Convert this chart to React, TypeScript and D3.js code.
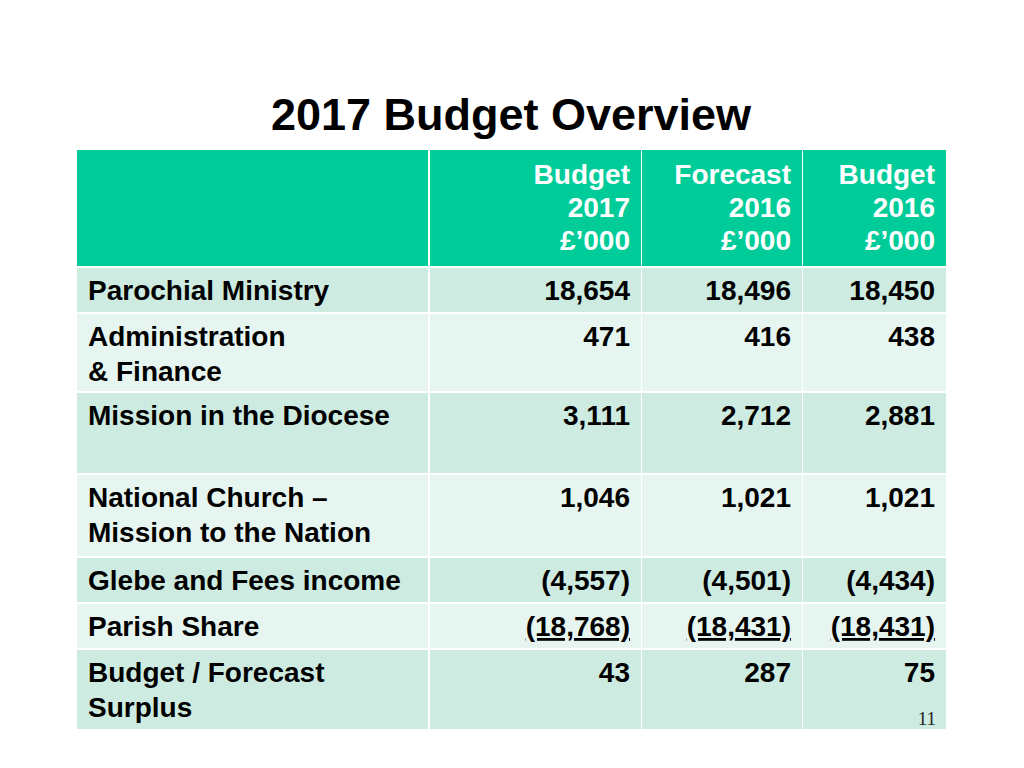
import React from "react";
import * as d3 from "d3";

const title = "2017 Budget Overview";
const columnHeaders = [
  ["Budget", "2017", "£’000"],
  ["Forecast", "2016", "£’000"],
  ["Budget", "2016", "£’000"],
];
const categories = [
  ["Parochial Ministry"],
  ["Administration", "& Finance"],
  ["Mission in the Diocese"],
  ["National Church –", "Mission to the Nation"],
  ["Glebe and Fees income"],
  ["Parish Share"],
  ["Budget / Forecast", "Surplus"],
];
const budget2017 = [18654, 471, 3111, 1046, -4557, -18768, 43];
const forecast2016 = [18496, 416, 2712, 1021, -4501, -18431, 287];
const budget2016 = [18450, 438, 2881, 1021, -4434, -18431, 75];
const underlinedRows = [5];
const pageNumber = "11";

// layout
const rowHeights = [44, 77, 80, 81, 44, 44, 79];
const headerHeight = 116;
const gap = 2;
const colEdges = [77, 429, 641, 802, 946];
const tableTop = 150;

const fmt = d3.format(",");
const fmtVal = (v: number) => (v < 0 ? `(${fmt(-v)})` : fmt(v));

const FONT = "'Liberation Sans', Arial, Helvetica, sans-serif";

export default function App() {
  const series = [budget2017, forecast2016, budget2016];
  const tops: number[] = [];
  let y = tableTop + headerHeight + gap;
  rowHeights.forEach((h) => {
    tops.push(y);
    y += h + gap;
  });
  const rowColor = (i: number) => (i % 2 === 0 ? "#cdebe0" : "#e7f5f0");
  const lineH = 35;
  const headLineH = 33;
  return (
    <svg
      width={1024}
      height={768}
      style={{ position: "absolute", left: 0, top: 0, background: "#fff" }}
    >
      <text
        x={511}
        y={130}
        textAnchor="middle"
        fontFamily={FONT}
        fontWeight="bold"
        fontSize={45}
        fill="#000"
      >
        {title}
      </text>
      {/* header */}
      {colEdges.slice(0, -1).map((x0, c) => (
        <rect
          key={"h" + c}
          x={x0 + (c === 0 ? 0 : 1)}
          y={tableTop}
          width={colEdges[c + 1] - x0 - 1}
          height={headerHeight}
          fill="#00cc99"
        />
      ))}
      {columnHeaders.map((lines, c) => (
        <text
          key={"ht" + c}
          fontFamily={FONT}
          fontWeight="bold"
          fontSize={28}
          fill="#fff"
          textAnchor="end"
        >
          {lines.map((l, k) => (
            <tspan key={k} x={colEdges[c + 2] - 11} y={tableTop + 34 + k * headLineH}>
              {l}
            </tspan>
          ))}
        </text>
      ))}
      {/* body */}
      {categories.map((cat, r) => (
        <g key={"r" + r}>
          {colEdges.slice(0, -1).map((x0, c) => (
            <rect
              key={c}
              x={x0 + (c === 0 ? 0 : 1)}
              y={tops[r]}
              width={colEdges[c + 1] - x0 - 1}
              height={rowHeights[r]}
              fill={rowColor(r)}
            />
          ))}
          <text fontFamily={FONT} fontWeight="bold" fontSize={28} fill="#000">
            {cat.map((l, k) => (
              <tspan key={k} x={88} y={tops[r] + 32 + k * lineH}>
                {l}
              </tspan>
            ))}
          </text>
          {series.map((s, c) => (
            <text
              key={"v" + c}
              x={colEdges[c + 2] - 11}
              y={tops[r] + 32}
              textAnchor="end"
              fontFamily={FONT}
              fontWeight="bold"
              fontSize={28}
              fill="#000"
              textDecoration={underlinedRows.includes(r) ? "underline" : undefined}
            >
              {fmtVal(s[r])}
            </text>
          ))}
        </g>
      ))}
      <text
        x={936}
        y={725}
        textAnchor="end"
        fontFamily="'Liberation Serif', 'Times New Roman', serif"
        fontSize={19}
        fill="#222"
      >
        {pageNumber}
      </text>
    </svg>
  );
}
